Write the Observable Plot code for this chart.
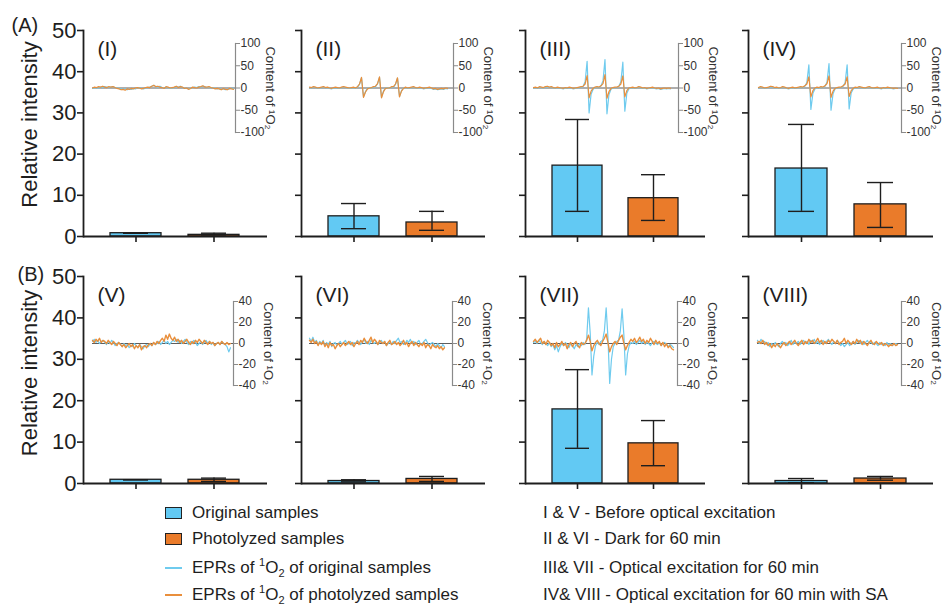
<!DOCTYPE html>
<html><head><meta charset="utf-8">
<script src="https://cdn.jsdelivr.net/npm/d3@7"></script>
<script src="https://cdn.jsdelivr.net/npm/@observablehq/plot@0.6"></script>
<style>
body{margin:0;background:#fff;}
#fig{position:relative;width:943px;height:605px;font-family:"Liberation Sans",Arial,sans-serif;color:#1e1e1e;overflow:hidden;background:#fff}
#fig svg{position:absolute;background:none;overflow:visible;max-width:none}
.leg{position:absolute;font-size:17px;line-height:20px;white-space:nowrap;color:#1e1e1e}
.leg sup,.leg sub{font-size:11px;line-height:0}
.sw{position:absolute;width:15px;height:10px;border:1.5px solid #222}
.ln{position:absolute;width:17px;height:2px}
</style></head><body><div id="fig"></div><script>
// ---------------- data ----------------
const groups = ["Original samples", "Photolyzed samples"];
const panelNames = ["(I)","(II)","(III)","(IV)","(V)","(VI)","(VII)","(VIII)"];
const rowNames = ["(A)","(B)"];
const yTicks = [0,10,20,30,40,50];
const insetTicksA = [-100,-50,0,50,100];
const insetTicksB = [-40,-20,0,20,40];
const origMean  = [0.8, 4.9, 17.2, 16.5, 0.9, 0.6, 17.9, 0.6];
const origLow   = [0.8, 1.9,  6.1,  6.1, 0.9, 0.4,  8.5, 0.2];
const origHigh  = [0.8, 8.0, 28.4, 27.2, 0.9, 0.9, 27.5, 1.2];
const photoMean = [0.4, 3.4,  9.3,  7.8, 0.9, 1.1,  9.7, 1.2];
const photoLow  = [0.1, 1.5,  3.9,  2.2, 0.5, 0.5,  4.3, 0.8];
const photoHigh = [0.8, 6.1, 15.0, 13.1, 1.3, 1.7, 15.2, 1.7];
const yLabel = "Relative intensity";
const insetLabel = "Content of \u00B9O\u2082";
const legendBarLabels = ["Original samples", "Photolyzed samples"];
const legendLineLabels = ["EPRs of <sup>1</sup>O<sub>2</sub> of original samples", "EPRs of <sup>1</sup>O<sub>2</sub> of photolyzed samples"];
const conditionNotes = ["I &amp; V - Before optical excitation", "II &amp; VI - Dark for 60 min", "III&amp; VII - Optical excitation for 60 min", "IV&amp; VIII - Optical excitation for 60 min with SA"];

// EPR spectra (inset traces)
const eprOrigI = [-1,0,1,0,2,1,3,2,1,2,3,1,0,-1,-2,-3,-2,-4,-2,-3,-1,-2,0,1,-1,-2,0,1,2,4,6,3,2,4,1,0,2,1,-1,0,1,3,2,4,1,0,-1,-2,0,1,2,1,3,2,4,3,1,2,0,1,-1,-2,-1,-3,-2,-4,-3,-2,-1,-1];
const eprPhotoI = [0,2,1,3,2,4,2,1,3,2,3,1,-1,-2,-4,-3,-5,-2,-3,-1,-2,0,1,0,-2,-1,1,2,1,4,6,3,4,2,1,-1,3,2,0,1,2,4,1,3,2,-1,0,-3,-1,2,1,0,2,3,5,2,2,3,1,0,-2,-1,-2,-4,-1,-3,-4,-1,-2,-3];
const eprOrigII = [1,0,2,1,-1,0,1,2,0,1,-1,-2,0,1,0,-1,1,2,1,0,-1,0,1,-1, 2,8,23,-20,-8,-1, 1,0,2, 3,9,24,-21,-7,0, 1,-1,2, 2,8,22,-19,-6,0, 1,-1,0,1,2,0,-1,1,0,-2,-1,0,1,-1,-3,-2,-4,-3,-2,-3,-1,-2];
const eprPhotoII = [2,1,3,2,0,1,2,3,1,2,0,-1,1,2,1,0,2,3,2,1,0,1,2,0, 3,9,24,-21,-9,-2, 0,1,3, 4,10,25,-22,-8,-1, 0,0,3, 3,9,23,-20,-7,-1, 2,0,1,2,3,1,0,2,1,-1,0,1,2,0,-2,-1,-3,-2,-1,-2,0,-1];
const eprOrigIII = [0,1,-1,2,1,0,2,3,1,2,0,-1,1,0,-1,-2,0,-1,1,0,-2,-1,0,1,2, 4,14,60,-56,-14,-3, 1,2, 1,5,16,64,-58,-15,-3, 0,1, 1,4,14,58,-52,-12,-2, 0,1,-1,0,2,1,-1,0,-2,-1,0,1,-1,-2,-1,-3,-2,-1,-2,-1,-2];
const eprPhotoIII = [1,2,0,3,2,1,3,4,2,3,1,0,2,1,0,-1,1,0,2,1,-1,0,1,2,3, 4,9,28,-22,-7,-1, 2,3, 2,5,10,30,-23,-8,-1, 1,2, 2,4,9,27,-20,-6,0, 1,2,0,1,3,2,0,1,-1,0,1,2,0,-1,0,-2,-1,0,-1,0,-1];
const eprOrigIV = [0,2,1,-1,0,1,3,2,0,1,-1,0,2,1,-1,-2,0,1,-1,0,1,2,1, 4,12,52,-48,-12,-2, 1,0,2, 1,4,13,55,-50,-13,-2, 0,1, 1,4,12,52,-47,-11,-2, 1,0,2,1,0,-1,1,2,0,-1,0,1,-1,-2,0,-1,1,0,-1,-2,-1,-1];
const eprPhotoIV = [1,3,2,0,1,2,4,3,1,2,0,1,3,2,0,-1,1,2,0,1,2,3,2, 5,9,25,-20,-6,0, 2,1,3, 2,5,10,27,-21,-7,-1, 1,2, 2,5,9,25,-19,-6,-1, 2,1,3,2,1,0,2,3,1,0,1,2,0,-1,1,0,2,1,0,-1,0,-1];
const eprOrigV = [2,4,1,3,0,2,3,1,-1,2,0,3,1,-2,0,1,-1,-3,0,-2,-1,-4,-2,-3,0,-2,-4,-1,-3,-5,-2,-1,-3,0,-2,1,-1,0,2,-1,1,3,0,2,-1,1,3,2,4,1,3,0,2,4,1,-1,2,0,3,1,-2,0,2,-1,1,3,0,2,-1,1,-2,0,1,-1,2,0,-1,-3,-8,-4];
const eprPhotoV = [3,1,4,2,5,1,3,2,0,3,1,-1,2,0,-2,1,-1,-3,-1,-4,-2,0,-3,-1,-5,-2,-4,-1,-6,-3,-2,-4,-1,0,-2,1,-1,2,0,3,5,2,8,4,9,5,3,6,2,4,1,3,0,2,4,1,-1,2,0,3,1,4,2,0,3,1,-1,2,0,1,-2,0,1,-1,2,0,-1,1,-1,0];
const eprOrigVI = [5,2,6,1,3,-1,2,0,3,-2,1,-1,2,-3,0,1,-2,0,2,-1,1,3,-1,0,2,-2,1,0,3,1,-1,2,4,0,2,-1,3,1,0,2,-1,1,3,0,2,-2,0,1,-1,2,0,3,5,1,2,-1,0,3,1,4,0,2,-1,1,3,-1,0,2,4,1,-2,0,1,-1,-3,0,-2,-4,-1,-3];
const eprPhotoVI = [3,1,4,0,2,-2,1,-1,2,-3,0,-4,1,-2,-1,-5,-2,0,-3,-1,1,-2,0,2,-1,1,-3,0,2,-1,3,1,5,2,0,3,6,1,4,2,-1,3,1,0,2,-2,1,3,-1,0,2,-1,1,-2,0,3,-1,1,-3,0,2,-2,1,-1,-3,0,-2,1,-4,-1,-2,-5,-1,-3,-4,-2,-5,-3,-6,-4];
const eprOrigVII = [1,2,0,3,1,-1,2,0,-2,1,-3,-1,-6,-2,-8,-3,0,-2,1,-1,-4,0,-2,-5,-1,-3,0,-2,1,-1, 4,34,10,-30,-12,-2, 1,-1,2, 3,12,34,6,-38,-15,-3, 0,2, 3,12,33,8,-30,-10,-2, 1,0,2,-1,1,3,0,2,-1,1,0,-2,1,2,0,-1,1,-2,0,1,-1,-3,-1,-2,-4];
const eprPhotoVII = [2,4,1,3,5,0,2,-1,3,1,-2,0,-4,1,-3,-1,2,-2,0,-5,-1,1,-3,0,2,-2,-4,1,-1,0, 3,8,2,-7,-2,1, 3,0,-2, 2,5,9,1,-8,-3,0, 2,-1, 3,6,8,0,-6,-2,1, 4,2,5,1,3,6,2,4,0,3,1,5,2,-1,3,0,2,-2,1,-3,0,-4,-2,-5,-6];
const eprOrigVIII = [3,0,4,1,2,-1,1,-3,0,-2,1,-1,-3,0,2,-1,1,-2,0,3,-1,1,0,2,-1,1,3,0,2,-1,3,1,4,0,2,-1,1,3,0,2,4,1,-1,2,0,3,1,-2,0,-3,-1,1,-2,0,2,-1,1,3,0,2,-1,1,3,0,2,-1,1,0,-2,1,-1,0,-2,1,-1,0,-2,-1,0,-1];
const eprPhotoVIII = [1,2,0,3,-1,1,-2,0,-4,-1,-3,0,-2,-4,-1,1,-2,0,2,-1,1,3,0,-2,1,3,-1,2,0,4,1,3,0,2,5,1,3,-1,2,0,3,1,4,2,0,3,-1,1,2,5,0,3,1,-1,2,0,4,1,3,-1,2,0,-2,1,3,0,-1,2,0,-1,1,-2,0,-1,-3,-1,-2,0,-2,-1];
const eprOrig = [eprOrigI,eprOrigII,eprOrigIII,eprOrigIV,eprOrigV,eprOrigVI,eprOrigVII,eprOrigVIII];
const eprPhoto = [eprPhotoI,eprPhotoII,eprPhotoIII,eprPhotoIV,eprPhotoV,eprPhotoVI,eprPhotoVII,eprPhotoVIII];

// ---------------- style / layout ----------------
const barBlue = "#62c9f3", barOrange = "#ea7b2a";
const lineBlue = "#6fcbee", lineOrange = "#e98f3c";
const ink = "#1e1e1e";
const FONT = '"Liberation Sans", Arial, sans-serif';
const axisX0 = [83, 301, 525, 748];
const plotW = [184, 184, 180, 185];
const rowTop = [30, 276], rowH = [206, 207];
const insetPos = [[92,233,235],[309,447,453],[533,670,678],[758,897,901],
                  [92,230,233],[309,444,452],[533,673,677],[757,897,901]];
const insetTop = [43, 301], insetH = [89, 84];

const fig = document.getElementById("fig");
function place(svg, left, top){ svg.style.left = left+"px"; svg.style.top = top+"px"; fig.appendChild(svg); }

for (let k = 0; k < 8; k++) {
  const r = k < 4 ? 0 : 1, c = k % 4;
  const first = c === 0;
  const ml = first ? 83 : 30, mt = 30, mr = 4, mb = 14;
  const data = [
    {g: groups[0], v: origMean[k], lo: origLow[k], hi: origHigh[k]},
    {g: groups[1], v: photoMean[k], lo: photoLow[k], hi: photoHigh[k]}
  ];
  const marks = [
    Plot.barY(data, {x: "g", y: "v", fill: "g", stroke: ink, strokeWidth: 1.3}),
    Plot.ruleX(data, {x: "g", y1: "lo", y2: "hi", stroke: ink, strokeWidth: 1.4}),
    Plot.tickY(data, {x: "g", y: "lo", insetLeft: 13, insetRight: 13, stroke: ink, strokeWidth: 1.4}),
    Plot.tickY(data, {x: "g", y: "hi", insetLeft: 13, insetRight: 13, stroke: ink, strokeWidth: 1.4}),
    Plot.axisX({tickSize: 6, tickFormat: () => "", strokeWidth: 1.6, label: null}),
    Plot.axisY({ticks: yTicks, tickSize: 6, tickPadding: 1, strokeWidth: 1.6, fontSize: 22,
                tickFormat: first ? (d => String(d)) : (() => ""), label: null}),
    Plot.ruleY([0], {stroke: ink, strokeWidth: 1.8}),
    Plot.frame({anchor: "left", stroke: ink, strokeWidth: 1.8}),
    Plot.text([panelNames[k]], {frameAnchor: "top-left", dx: 14, dy: 19, fontSize: 21, textAnchor: "start", lineAnchor: "middle", fill: ink})
  ];
  if (first) {
    marks.push(Plot.text([yLabel], {frameAnchor: "left", dx: -54, dy: r === 0 ? -9 : -7, rotate: -90, textAnchor: "middle", fontSize: 22, fill: ink}));
    marks.push(Plot.text([rowNames[r]], {frameAnchor: "top-left", dx: r === 0 ? -72 : -66, dy: r === 0 ? -5 : -2, fontSize: 20, textAnchor: "start", lineAnchor: "middle", fill: ink}));
  }
  const svg = Plot.plot({
    width: ml + plotW[c] + mr, height: mt + rowH[r] + mb,
    marginLeft: ml, marginRight: mr, marginTop: mt, marginBottom: mb,
    style: {background: "none", overflow: "visible", fontFamily: FONT, color: ink},
    x: {domain: groups, paddingInner: 0.34, paddingOuter: 0.34, axis: null},
    y: {domain: [0, 50], axis: null},
    color: {domain: groups, range: [barBlue, barOrange]},
    marks
  });
  place(svg, axisX0[c] - ml, rowTop[r] - mt);
}

for (let k = 0; k < 8; k++) {
  const r = k < 4 ? 0 : 1;
  const ext = r === 0 ? 100 : 40;
  const ticks = r === 0 ? insetTicksA : insetTicksB;
  const [x0, x1, ax] = insetPos[k];
  const span = ax - x0;
  const pts = arr => arr.map((v, i) => ({x: i / (arr.length - 1), y: v}));
  const mt = 8, mb = 8, mr = 60;
  const svg = Plot.plot({
    width: span + mr, height: insetH[r] + mt + mb,
    marginLeft: 0, marginRight: mr, marginTop: mt, marginBottom: mb,
    style: {background: "none", overflow: "visible", fontFamily: FONT, color: "#333"},
    x: {domain: [0, span / (x1 - x0)], axis: null},
    y: {domain: [-ext, ext], axis: null},
    marks: [
      Plot.ruleY([0], {stroke: "#333", strokeWidth: 0.8}),
      Plot.line(pts(eprOrig[k]), {x: "x", y: "y", stroke: lineBlue, strokeWidth: 1.2}),
      Plot.line(pts(eprPhoto[k]), {x: "x", y: "y", stroke: lineOrange, strokeWidth: r === 0 ? 1.2 : 1.4}),
      Plot.axisY({anchor: "right", ticks, tickSize: 4, tickPadding: 1, fontSize: 12, stroke: "#8a8a8a", fill: "#333",
                  tickFormat: d => String(d), label: null}),
      Plot.frame({anchor: "right", stroke: "#8a8a8a", strokeWidth: 1.2}),
      Plot.text([insetLabel], {frameAnchor: "right", dx: 35, rotate: 90, textAnchor: "middle", fontSize: 13, fill: "#333"})
    ]
  });
  place(svg, x0, insetTop[r] - mt);
}

// ---------------- legend ----------------
const rowsY = [513, 539, 568, 595];
function addText(html, left, cy){
  const d = document.createElement("div"); d.className = "leg"; d.innerHTML = html;
  d.style.left = left + "px"; d.style.top = (cy - 10) + "px"; fig.appendChild(d);
}
[barBlue, barOrange].forEach((col, i) => {
  const s = document.createElement("div"); s.className = "sw"; s.style.background = col;
  s.style.left = "165px"; s.style.top = (rowsY[i] - 6) + "px"; fig.appendChild(s);
  addText(legendBarLabels[i], 192, rowsY[i]);
});
[lineBlue, lineOrange].forEach((col, i) => {
  const s = document.createElement("div"); s.className = "ln"; s.style.background = col;
  s.style.left = "165px"; s.style.top = (rowsY[i + 2] - 1) + "px"; fig.appendChild(s);
  addText(legendLineLabels[i], 192, rowsY[i + 2]);
});
conditionNotes.forEach((t, i) => addText(t, 543, rowsY[i]));
</script></body></html>
